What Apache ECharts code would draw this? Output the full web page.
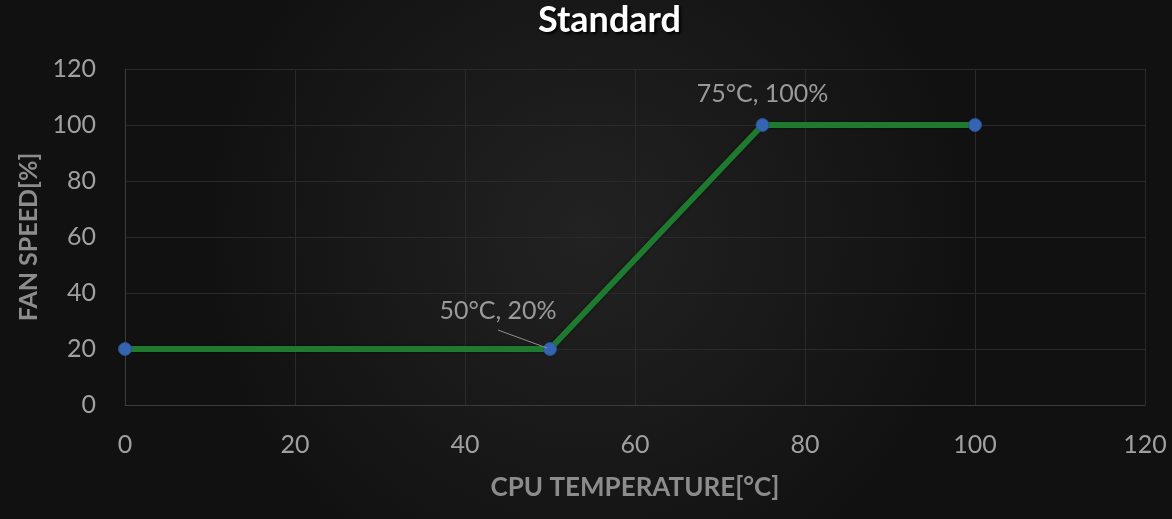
<!DOCTYPE html>
<html>
<head>
<meta charset="utf-8">
<script src="https://cdn.jsdelivr.net/npm/echarts@6/dist/echarts.min.js"></script>
<style>
html,body{margin:0;padding:0;background:#161616;}
#c{width:1172px;height:519px;}
</style>
</head>
<body>
<div id="c"></div>
<script>
const titleText = 'Standard';
const xName = 'CPU TEMPERATURE[°C]';
const yName = 'FAN SPEED[%]';
const temps = [0, 50, 75, 100];
const speeds = [20, 20, 100, 100];
const pointLabels = ['', '50°C, 20%', '75°C, 100%', ''];

const chart = echarts.init(document.getElementById('c'));
const data = temps.map((t, i) => {
  const d = { value: [t, speeds[i]] };
  if (pointLabels[i]) {
    d.label = { show: true, formatter: pointLabels[i], position: 'top', distance: 12 };
  }
  return d;
});
chart.setOption({
  backgroundColor: {
    type: 'radial', x: 0.5, y: 0.45, r: 0.75,
    colorStops: [{ offset: 0, color: '#222222' }, { offset: 1, color: '#111111' }]
  },
  title: {
    text: titleText, left: 533, top: -3,
    textStyle: { color: '#ffffff', fontFamily: 'Lato', fontWeight: 'bold', fontSize: 36,
      textShadowColor: '#000', textShadowBlur: 3, textShadowOffsetX: 2, textShadowOffsetY: 2 }
  },
  grid: { left: 125, right: 27, top: 69, bottom: 114 },
  xAxis: {
    type: 'value', min: 0, max: 120, interval: 20,
    name: xName, nameLocation: 'middle', nameGap: 70,
    nameTextStyle: { color: '#8c8c8c', fontFamily: 'Lato', fontWeight: 'bold', fontSize: 26 },
    axisLine: { show: true, lineStyle: { color: '#3c3c3c', width: 1 } },
    axisTick: { show: false },
    axisLabel: { color: '#a0a0a0', fontFamily: 'Lato', fontSize: 25, margin: 27 },
    splitLine: { show: true, lineStyle: { color: '#2a2a2a', width: 1 } }
  },
  yAxis: {
    type: 'value', min: 0, max: 120, interval: 20,
    name: yName, nameLocation: 'middle', nameGap: 84,
    nameTextStyle: { color: '#8c8c8c', fontFamily: 'Lato', fontWeight: 'bold', fontSize: 25 },
    axisLine: { show: true, lineStyle: { color: '#3c3c3c', width: 1 } },
    axisTick: { show: false },
    axisLabel: { color: '#a0a0a0', fontFamily: 'Lato', fontSize: 25, margin: 29 },
    splitLine: { show: true, lineStyle: { color: '#2a2a2a', width: 1 } }
  },
  series: [{
    type: 'line',
    data: data,
    symbol: 'circle', symbolSize: 13,
    itemStyle: { color: '#3565b0', borderColor: '#2a4f8e', borderWidth: 1 },
    lineStyle: { color: '#1e7a2e', width: 6, shadowColor: 'rgba(0,0,0,0.6)', shadowBlur: 3 },
    label: { color: '#9a9a9a', fontFamily: 'Lato', fontSize: 25 },
    labelLayout: function (p) {
      return p.dataIndex === 1 ? { dx: -52, dy: -7 } : {};
    },
    animation: false,
    z: 3
  }]
});
// leader line for the shifted label, anchored to the data point via the chart's own scale
const anchor = chart.convertToPixel({ gridIndex: 0 }, [temps[1], speeds[1]]);
chart.setOption({
  graphic: [{
    type: 'line', z: 10, silent: true,
    shape: { x1: anchor[0] - 52, y1: anchor[1] - 19, x2: anchor[0] - 3, y2: anchor[1] - 1 },
    style: { stroke: '#8f8f8f', lineWidth: 1 }
  }]
});
</script>
</body>
</html>
